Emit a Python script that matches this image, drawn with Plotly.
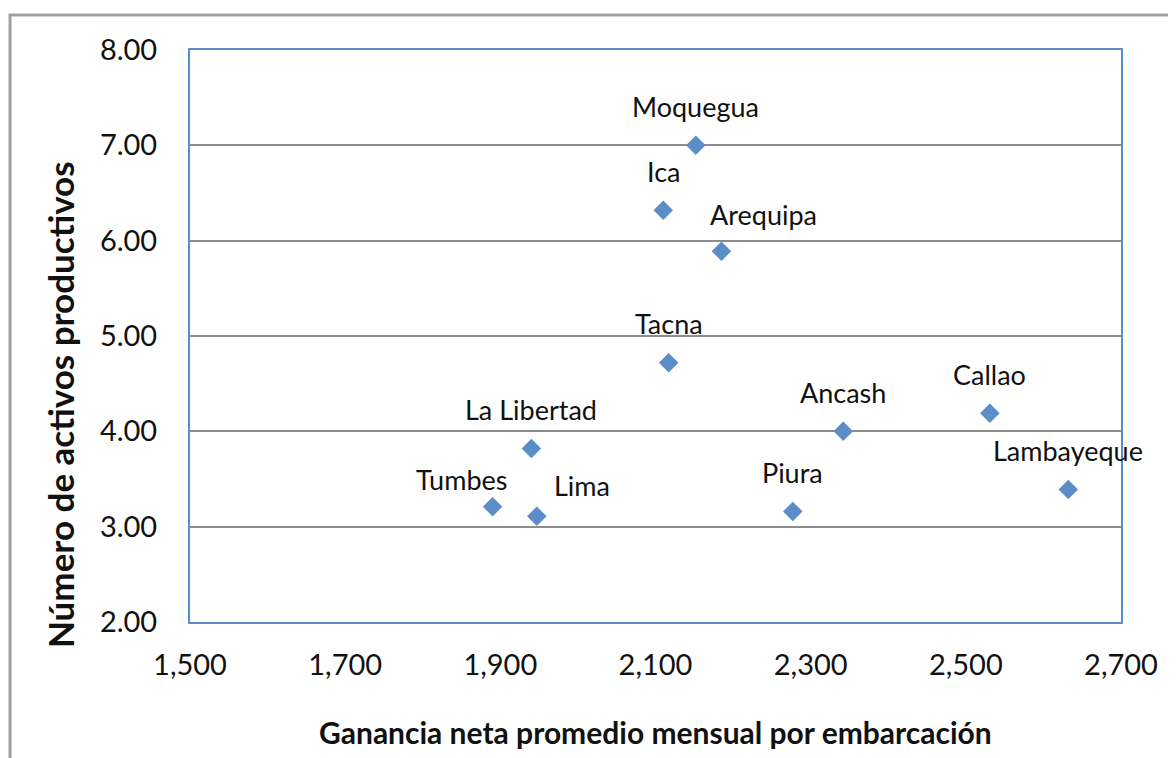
import plotly.graph_objects as go

regions = ["Moquegua", "Ica", "Arequipa", "Tacna", "La Libertad", "Tumbes",
           "Lima", "Piura", "Ancash", "Callao", "Lambayeque"]
ganancia = [2152, 2110, 2185, 2117, 1940, 1890, 1947, 2277, 2342, 2531, 2632]
activos = [7.00, 6.32, 5.89, 4.72, 3.82, 3.21, 3.11, 3.16, 4.00, 4.19, 3.39]

x_ticks = [1500, 1700, 1900, 2100, 2300, 2500, 2700]
y_ticks = [2, 3, 4, 5, 6, 7, 8]

# label offsets in pixels (dx, dy) from each marker
label_shift = {"Arequipa": (42, 37), "Tumbes": (-31, 27), "Lima": (45, 31)}

font = "Lato, Open Sans, sans-serif"
blue = "#5B8DC9"

fig = go.Figure()
fig.add_trace(go.Scatter(x=ganancia, y=activos, mode="markers",
                         marker=dict(symbol="diamond", size=15, color=blue),
                         hovertext=regions, showlegend=False))

for name, gx, ay in zip(regions, ganancia, activos):
    dx, dy = label_shift.get(name, (0, 39))
    fig.add_annotation(x=gx, y=ay, text=name, showarrow=False,
                       xshift=dx, yshift=dy,
                       font=dict(family=font, size=27, color="#111"))

# axis titles (y title sits lower than the plot centre, as in the original)
fig.add_annotation(xref="paper", yref="paper", x=-0.1396, y=0.3794,
                   xanchor="center", yanchor="middle",
                   text="<b>Número de activos productivos</b>", textangle=-90,
                   showarrow=False, font=dict(family=font, size=35, color="#111"))
fig.add_annotation(xref="paper", yref="paper", x=0.5, y=-0.1923,
                   xanchor="center", yanchor="middle",
                   text="<b>Ganancia neta promedio mensual por embarcación</b>",
                   showarrow=False, font=dict(family=font, size=30, color="#111"))

fig.update_layout(
    width=1168, height=750,
    margin=dict(l=182, r=55, t=42, b=136),
    paper_bgcolor="white", plot_bgcolor="white",
    font=dict(family=font, color="#111"),
    xaxis=dict(range=[1500, 2700], tickvals=x_ticks,
               ticktext=[f"{v:,}" for v in x_ticks],
               tickfont=dict(size=29), ticks="", showgrid=False,
               zeroline=False, showline=True, linecolor=blue, linewidth=2,
               mirror=True, ticklabelstandoff=16),
    yaxis=dict(range=[2, 8], tickvals=y_ticks,
               ticktext=[f"{v:.2f}" for v in y_ticks],
               tickfont=dict(size=29), ticks="", showgrid=True,
               gridcolor="#8C8C8C", gridwidth=2,
               zeroline=False, showline=True, linecolor=blue, linewidth=2,
               mirror=True, ticklabelstandoff=25),
    shapes=[dict(type="rect", xref="paper", yref="paper",
                 x0=-0.1933, x1=1.5, y0=-1, y1=1.0612,
                 line=dict(color="#A0A0A0", width=3), layer="below")],
)

fig.write_html("out.html")
